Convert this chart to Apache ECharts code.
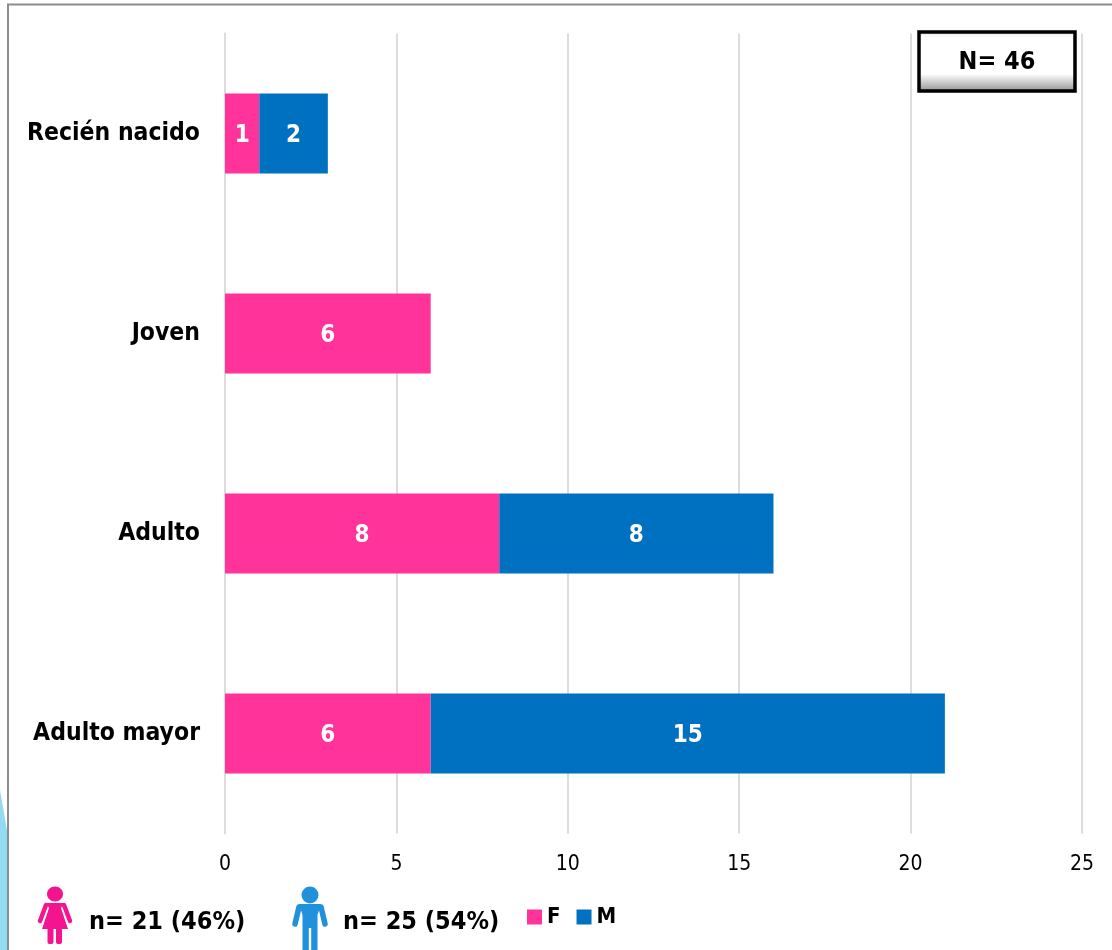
<!DOCTYPE html>
<html><head><meta charset="utf-8">
<script src="https://cdn.jsdelivr.net/npm/echarts@6/dist/echarts.min.js"></script>
<style>html,body{margin:0;padding:0;background:#fff}#c{width:1112px;height:950px}</style>
</head><body><div id="c"></div>
<script>
const categories = ['Recién nacido', 'Joven', 'Adulto', 'Adulto mayor'];
const femaleValues = [1, 6, 8, 6];
const maleValues = [2, null, 8, 15];
const xTicks = {min: 0, max: 25, interval: 5};
const FONT = 'DejaVu Sans Condensed, DejaVu Sans';
const PINK = '#FF3399', BLUE = '#0070C0';

const chart = echarts.init(document.getElementById('c'), null, {renderer: 'canvas'});
const lbl = {show: true, position: 'inside', offset: [0, 2], color: '#fff', fontFamily: FONT, fontWeight: 'bold', fontSize: 24};
function text(x, y, t, size, align) {
  return {type: 'text', x, y, z: 20, style: {text: t, fontFamily: FONT, fontWeight: 'bold', fontSize: size, fill: '#000', align: align || 'left', verticalAlign: 'middle'}};
}
function limb(x1, y1, x2, y2, c, w) {
  return {type: 'line', shape: {x1, y1, x2, y2}, style: {stroke: c, lineWidth: w, lineCap: 'round'}};
}
function woman(c) {
  return {type: 'group', x: 55, y: 0, z: 20, children: [
    {type: 'ellipse', shape: {cx: 0, cy: 894, rx: 8, ry: 7.5}, style: {fill: c}},
    {type: 'polygon', shape: {points: [[-9,903],[9,903],[6,908],[13,929],[-13,929],[-6,908]]}, style: {fill: c}},
    limb(-9, 905, -15, 921, c, 4.5),
    limb(9, 905, 15, 921, c, 4.5),
    {type: 'rect', shape: {x: -7.5, y: 927, width: 6, height: 17, r: 2}, style: {fill: c}},
    {type: 'rect', shape: {x: 1, y: 927, width: 6, height: 17, r: 2}, style: {fill: c}}
  ]};
}
function man(c) {
  return {type: 'group', x: 310, y: 0, z: 20, children: [
    {type: 'circle', shape: {cx: 0, cy: 895, r: 8.5}, style: {fill: c}},
    {type: 'polygon', shape: {points: [[-11,904],[11,904],[7.5,915],[7.5,950],[-7.5,950],[-7.5,915]]}, style: {fill: c}},
    limb(-11, 907, -15, 924, c, 5.5),
    limb(11, 907, 15, 924, c, 5.5),
    {type: 'rect', shape: {x: -1.2, y: 928, width: 2.4, height: 22}, style: {fill: '#fff'}}
  ]};
}
chart.setOption({
  animation: false,
  backgroundColor: '#fff',
  grid: {left: 225, top: 33.5, width: 857, height: 800, containLabel: false},
  legend: {
    left: 522, top: 901, itemWidth: 15, itemHeight: 15, itemGap: 16, icon: 'rect',
    selectedMode: false, data: ['F', 'M'],
    textStyle: {fontFamily: FONT, fontWeight: 'bold', fontSize: 22, color: '#000'}
  },
  xAxis: {
    type: 'value', min: xTicks.min, max: xTicks.max, interval: xTicks.interval,
    axisLine: {show: false}, axisTick: {show: false},
    splitLine: {show: true, lineStyle: {color: '#DDDDDD', width: 2}},
    axisLabel: {color: '#000', fontFamily: FONT, fontSize: 21, margin: 21}
  },
  yAxis: {
    type: 'category', inverse: true, data: categories,
    axisLine: {show: true, lineStyle: {color: '#DDDDDD', width: 2}}, axisTick: {show: false},
    axisLabel: {color: '#000', fontFamily: FONT, fontWeight: 'bold', fontSize: 24.5, margin: 25, padding: [3, 0, 0, 0]}
  },
  series: [
    {name: 'F', type: 'bar', stack: 'a', data: femaleValues, barWidth: 80, itemStyle: {color: PINK}, label: lbl},
    {name: 'M', type: 'bar', stack: 'a', data: maleValues, barWidth: 80, itemStyle: {color: BLUE}, label: lbl}
  ],
  graphic: {elements: [
    {type: 'polygon', z: 1, shape: {points: [[0,790],[8,836],[8,950],[0,950]]}, style: {fill: '#92DBF2'}},
    {type: 'polyline', z: 2, shape: {points: [[8,950],[8,4.5],[1112,4.5]]}, style: {stroke: '#8C8C8C', lineWidth: 2, fill: null}},
    {type: 'rect', z: 15, shape: {x: 919, y: 32, width: 156, height: 59},
      style: {stroke: '#000', lineWidth: 3.5, fill: {type: 'linear', x: 0, y: 0, x2: 0, y2: 1, colorStops: [
        {offset: 0, color: '#E4E4E4'}, {offset: 0.12, color: '#FFFFFF'}, {offset: 0.7, color: '#FFFFFF'}, {offset: 1, color: '#8A8A8A'}]}}},
    text(997, 62, 'N= 46', 25, 'center'),
    woman('#F5148F'),
    man('#2191DB'),
    text(89, 922, 'n= 21 (46%)', 25),
    text(343, 922, 'n= 25 (54%)', 25)
  ]}
});
</script></body></html>
